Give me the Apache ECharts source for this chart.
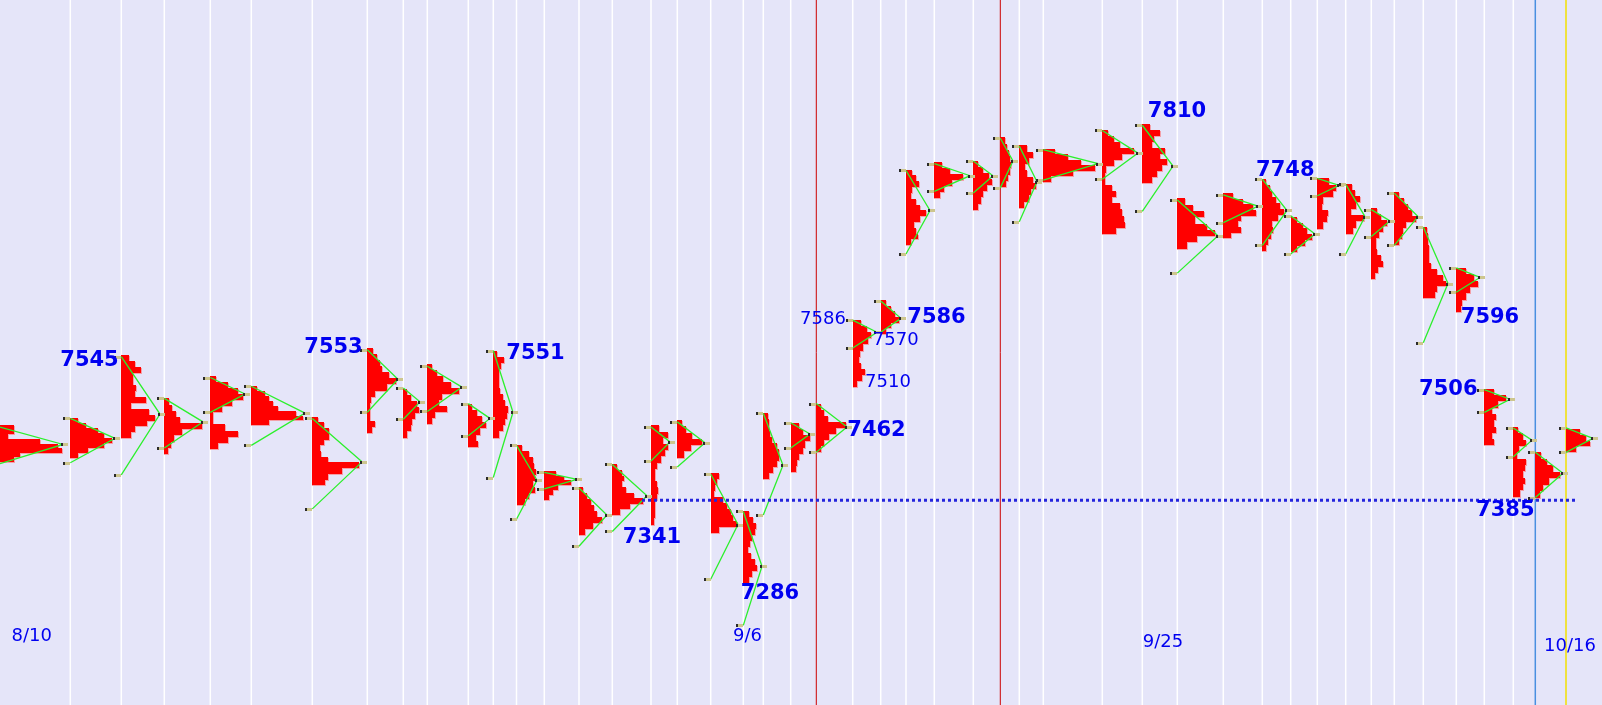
<!DOCTYPE html>
<html><head><meta charset="utf-8">
<script src="https://cdn.jsdelivr.net/npm/echarts@6/dist/echarts.min.js"></script>
<style>html,body{margin:0;padding:0;background:#e5e5f9}#c{width:1602px;height:705px}</style>
</head><body><div id="c"></div>
<script>
// session start positions (time axis units)
const sessionX = [0, 70.3, 121.3, 164.3, 210.3, 251.3, 312.3, 367.3, 403.3, 427.3, 468.3, 493.3, 516.5, 544.3, 579, 612.3, 651, 677.3, 710.7, 743.3, 763.3, 790.7, 816.3, 852.7, 880.7, 906, 934.3, 973.3, 1000.3, 1019.3, 1043.3, 1102.3, 1142.3, 1177.3, 1223.3, 1262.3, 1290.7, 1317.3, 1345.7, 1371.3, 1394.3, 1423.3, 1456.3, 1484.3, 1513.3, 1535.3, 1566];
const profileHigh = [7464, 7472, 7545, 7495, 7521, 7509, 7474, 7553, 7506, 7534, 7489, 7550, 7441, 7412, 7393, 7419, 7464, 7470, 7409, 7366, 7478, 7467, 7488, 7585, 7608, 7758, 7767, 7768, 7795, 7786, 7782, 7804, 7810, 7725, 7731, 7747, 7704, 7748, 7742, 7714, 7732, 7692, 7645, 7506, 7462, 7433, 7460];
const profileLow = [7422, 7427, 7449, 7431, 7437, 7464, 7395, 7455, 7450, 7466, 7439, 7450, 7372, 7378, 7338, 7361, 7350, 7427, 7340, 7283, 7402, 7410, 7433, 7508, 7569, 7671, 7725, 7712, 7738, 7714, 7744, 7684, 7743, 7667, 7679, 7665, 7663, 7690, 7684, 7632, 7671, 7610, 7594, 7441, 7382, 7381, 7433];
// profile widths per row, from high to low
const profileWidths = [
 [14, 14, 8, 40, 58, 62, 20, 14],
 [8, 16, 28, 34, 42, 34, 18, 8],
 [8, 14, 20, 12, 12, 15, 14, 25, 10, 28, 34, 26, 14, 10],
 [5, 8, 12, 16, 38, 18, 10, 7, 4],
 [6, 18, 28, 33, 22, 12, 3, 3, 15, 28, 18, 8],
 [6, 14, 18, 22, 27, 45, 52, 18],
 [6, 12, 17, 17, 12, 8, 9, 16, 47, 30, 16, 13],
 [6, 10, 13, 15, 22, 29, 20, 8, 4, 3, 3, 3, 8, 5],
 [4, 8, 14, 16, 12, 9, 8, 4],
 [5, 10, 16, 24, 32, 15, 12, 20, 8, 5],
 [4, 9, 14, 18, 12, 8, 10],
 [4, 11, 8, 6, 6, 6, 7, 10, 12, 15, 14, 12, 10, 6],
 [5, 12, 16, 17, 19, 18, 16, 18, 12, 8],
 [12, 20, 27, 14, 9, 5],
 [4, 8, 12, 15, 18, 23, 14, 6],
 [5, 10, 12, 10, 14, 22, 31, 18, 8],
 [8, 17, 12, 17, 14, 10, 6, 4, 4, 6, 7, 6, 4, 4, 4, 3],
 [5, 9, 15, 25, 14, 7],
 [8, 6, 4, 3, 12, 16, 20, 22, 26, 8],
 [6, 10, 13, 12, 9, 7, 5, 8, 12, 14, 9, 6],
 [5, 6, 6, 7, 9, 14, 16, 16, 14, 10, 6],
 [8, 12, 19, 14, 12, 8, 6, 5],
 [5, 8, 12, 30, 20, 13, 8, 5],
 [8, 14, 18, 15, 10, 7, 6, 8, 12, 9, 4],
 [5, 10, 14, 18, 10, 5],
 [6, 10, 13, 6, 5, 10, 14, 20, 14, 8, 10, 12, 5],
 [8, 16, 29, 18, 10, 6],
 [5, 10, 16, 19, 14, 10, 8, 5],
 [5, 7, 9, 10, 11, 10, 8, 6],
 [8, 14, 10, 6, 8, 14, 17, 12, 10, 5],
 [12, 25, 38, 52, 30, 8],
 [6, 12, 18, 32, 20, 12, 4, 3, 3, 10, 14, 10, 18, 20, 22, 23, 14],
 [8, 18, 12, 10, 23, 18, 25, 20, 15, 10],
 [8, 16, 27, 18, 30, 38, 20, 10],
 [10, 20, 30, 33, 18, 15, 18, 8],
 [4, 8, 10, 14, 18, 22, 16, 10, 11, 9, 6, 4],
 [6, 12, 16, 21, 14, 6],
 [12, 19, 16, 6, 5, 11, 10, 6],
 [6, 9, 14, 10, 5, 18, 10, 7],
 [6, 10, 16, 12, 8, 5, 5, 6, 10, 12, 7, 4],
 [5, 10, 14, 18, 22, 12, 9, 8, 5],
 [4, 5, 5, 6, 6, 6, 8, 14, 20, 23, 14, 12],
 [10, 18, 22, 14, 10, 6, 5],
 [10, 22, 14, 8, 12, 10, 12, 8, 10],
 [5, 10, 13, 6, 4, 13, 12, 10, 12, 10, 7],
 [6, 12, 18, 25, 14, 8, 5],
 [14, 20, 24, 10]
];
// triangle points: start price, tip (time, price), end price
const openPrice = [7462, 7472, 7543, 7495, 7519, 7509, 7472, 7551, 7507, 7532, 7489, 7550, 7441, 7410, 7392, 7419, 7462, 7468, 7408, 7365, 7478, 7467, 7489, 7585, 7607, 7757, 7765, 7768, 7794, 7785, 7781, 7803, 7809, 7723, 7729, 7747, 7705, 7748, 7741, 7712, 7731, 7692, 7645, 7505, 7461, 7433, 7461];
const tipX = [63, 115, 160, 203, 245, 305, 362, 398, 420, 462, 490, 513, 537, 577, 607, 647, 670, 705, 738, 762, 783, 810, 847, 877, 901, 930, 970, 993, 1013, 1037, 1098, 1138, 1173, 1218, 1258, 1287, 1315, 1339, 1365, 1390, 1418, 1448, 1480, 1510, 1532, 1563, 1593];
const tipPrice = [7442, 7449, 7477, 7468, 7500, 7478, 7422, 7517, 7491, 7508, 7472, 7479, 7401, 7402, 7361, 7383, 7445, 7444, 7350, 7302, 7418, 7454, 7462, 7571, 7587, 7711, 7751, 7751, 7768, 7744, 7765, 7777, 7762, 7682, 7716, 7711, 7684, 7740, 7704, 7699, 7704, 7627, 7634, 7494, 7447, 7409, 7449];
const endPrice = [7420, 7421, 7407, 7438, 7479, 7441, 7368, 7479, 7471, 7480, 7452, 7404, 7356, 7391, 7325, 7342, 7423, 7416, 7287, 7234, 7361, 7438, 7433, 7553, 7571, 7661, 7733, 7731, 7737, 7698, 7746, 7747, 7710, 7639, 7697, 7671, 7661, 7728, 7661, 7681, 7671, 7559, 7617, 7479, 7428, 7381, 7433];
// special vertical lines
const redLineX = [816.3, 1000.3];
const blueLineX = [1535.3];
const yellowLineX = [1566];
// support line
const supportLine = [[642, 7378], [1575, 7378]];
// labels: [time, price, text]
const boldLabels = [[89.5, 7538, '7545'], [333.5, 7553, '7553'], [535.5, 7547, '7551'], [652, 7335, '7341'], [770, 7271, '7286'], [876.5, 7458, '7462'], [936.5, 7588, '7586'], [1177, 7825, '7810'], [1285.3, 7757, '7748'], [1490, 7588, '7596'], [1448.3, 7505, '7506'], [1505.3, 7366, '7385']];
const smallLabels = [[823, 7586, '7586'], [895.7, 7562, '7570'], [888, 7513, '7510']];
const dateLabels = [[31.7, 7222, '8/10'], [747.5, 7222, '9/6'], [1163, 7215, '9/25'], [1570, 7210, '10/16']];

const special = redLineX.concat(blueLineX, yellowLineX);
const whiteLineX = sessionX.filter(x => x > 0 && special.indexOf(x) < 0);
const vlines = whiteLineX.map(x => [x, 0]).concat(redLineX.map(x => [x, 1]), blueLineX.map(x => [x, 2]), yellowLineX.map(x => [x, 3]));
const vColors = ['#ffffff', '#cc0000', '#4a8fe0', '#f2e000'];
const vWidths = [1.5, 1, 1.5, 1.5];

const chart = echarts.init(document.getElementById('c'));
const profileData = sessionX.map((x, i) => [x, profileHigh[i], profileLow[i], i]);
const triData = sessionX.map((x, i) => [x, openPrice[i], tipX[i], tipPrice[i], endPrice[i]]);

function renderV(params, api) {
  const cs = params.coordSys;
  const x = api.coord([api.value(0), 7500])[0];
  const k = api.value(1);
  return {type: 'line', shape: {x1: x, y1: cs.y, x2: x, y2: cs.y + cs.height}, style: {stroke: vColors[k], lineWidth: vWidths[k]}};
}
function renderProfile(params, api) {
  const x0 = api.value(0), hi = api.value(1), lo = api.value(2), idx = api.value(3);
  const w = profileWidths[idx];
  const n = w.length, step = (hi - lo) / n;
  const sh = [], bars = [];
  const xs = Math.round(api.coord([x0, hi])[0]);
  for (let r = 0; r < n; r++) {
    const y1 = Math.round(api.coord([x0, hi - r * step])[1]);
    const y2 = Math.round(api.coord([x0, hi - (r + 1) * step])[1]);
    const xe = Math.round(api.coord([x0 + w[r], hi])[0]);
    sh.push({type: 'rect', shape: {x: xs, y: y1 + 1, width: xe - xs + 1, height: y2 - y1}, style: {fill: '#f3a0a8'}});
    bars.push({type: 'rect', shape: {x: xs, y: y1, width: xe - xs, height: y2 - y1}, style: {fill: '#ff0000'}});
  }
  return {type: 'group', children: sh.concat(bars)};
}
function mk(x, y) {
  const yy = Math.round(y) - 1, xx = Math.round(x);
  return [
    {type: 'rect', shape: {x: xx, y: yy, width: 7, height: 3}, style: {fill: '#cdc68e'}},
    {type: 'rect', shape: {x: xx, y: yy, width: 2, height: 3}, style: {fill: '#2a2a2a'}}
  ];
}
function renderTri(params, api) {
  const a = api.coord([api.value(0), api.value(1)]);
  const t = api.coord([api.value(2), api.value(3)]);
  const b = api.coord([api.value(0), api.value(4)]);
  return {type: 'group', children: [
    {type: 'polyline', shape: {points: [a, t, b]}, style: {stroke: '#2cf02c', lineWidth: 1.3, fill: 'none'}}
  ].concat(mk(a[0] - 7, a[1]), mk(t[0] - 2, t[1]), mk(b[0] - 7, b[1]))};
}
function textRenderer(font) {
  return function (params, api) {
    const p = api.coord([api.value(0), api.value(1)]);
    const d = params.dataIndexInside;
    return {type: 'text', x: p[0], y: p[1], style: {text: this.list[d][2], font: font, fill: '#0000f0', align: 'center', verticalAlign: 'middle'}};
  };
}
const boldR = textRenderer('bold 21px "DejaVu Sans"').bind({list: boldLabels});
const smallR = textRenderer('18px "DejaVu Sans"').bind({list: smallLabels});
const dateR = textRenderer('18px "DejaVu Sans"').bind({list: dateLabels});

chart.setOption({
  animation: false,
  backgroundColor: '#e5e5f9',
  grid: {left: 0, right: 0, top: 0, bottom: 0},
  xAxis: {type: 'value', min: 0, max: 1602, show: false},
  yAxis: {type: 'value', min: 7142.5, max: 7953, show: false},
  series: [
    {type: 'custom', renderItem: renderV, data: vlines, silent: true, z: 1, encode: {x: 0, y: 1}, clip: false},
    {type: 'custom', renderItem: renderProfile, data: profileData, silent: true, z: 2, encode: {x: 0, y: [1, 2]}, clip: false},
    {type: 'custom', renderItem: renderTri, data: triData, silent: true, z: 3, encode: {x: [0, 2], y: [1, 3, 4]}, clip: false},
    {type: 'line', data: supportLine, symbol: 'none', silent: true, z: 4, lineStyle: {color: '#2424dc', width: 3, type: [3, 3]}},
    {type: 'custom', renderItem: boldR, data: boldLabels.map(d => [d[0], d[1]]), silent: true, z: 5, clip: false},
    {type: 'custom', renderItem: smallR, data: smallLabels.map(d => [d[0], d[1]]), silent: true, z: 5, clip: false},
    {type: 'custom', renderItem: dateR, data: dateLabels.map(d => [d[0], d[1]]), silent: true, z: 5, clip: false}
  ]
});
</script></body></html>
